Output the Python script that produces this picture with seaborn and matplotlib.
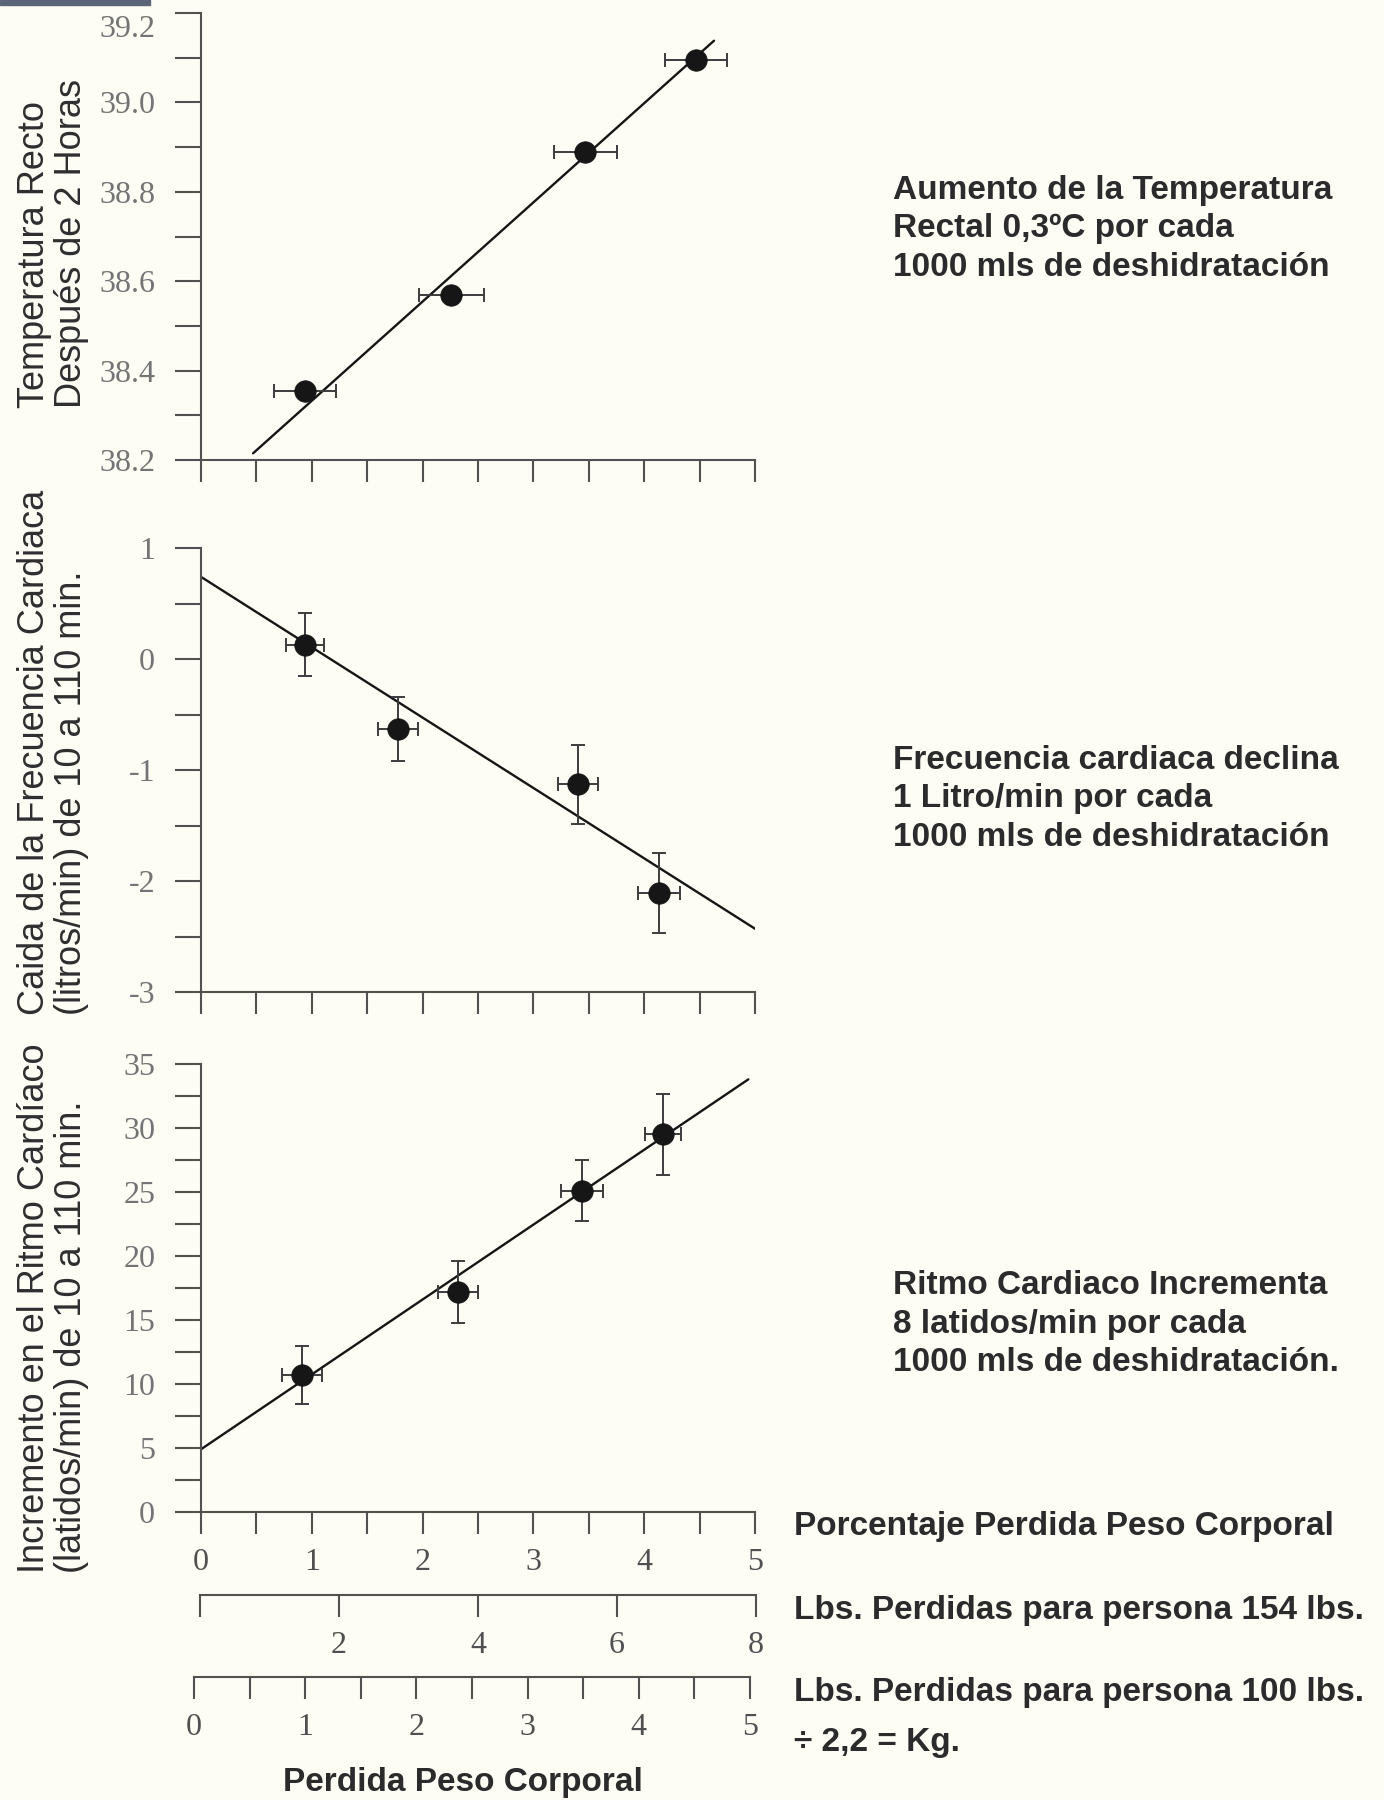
import matplotlib
matplotlib.use("Agg")
import matplotlib.pyplot as plt
from matplotlib.patches import Rectangle
from matplotlib.ticker import MultipleLocator, FixedLocator
import seaborn as sns
import pandas as pd

# datos (x = % perdida peso corporal)
temp_x = [0.94, 2.26, 3.47, 4.47]
temp_y = [38.355, 38.570, 38.890, 39.095]
temp_xerr = [0.28, 0.29, 0.28, 0.28]
temp_fit_x = [0.47, 4.63]
temp_fit_y = [38.215, 39.138]

fc_x = [0.94, 1.78, 3.40, 4.13]
fc_y = [0.13, -0.63, -1.13, -2.11]
fc_xerr = [0.17, 0.18, 0.18, 0.19]
fc_yerr = [0.28, 0.29, 0.355, 0.36]
fc_fit_x = [0.0, 5.0]
fc_fit_y = [0.74, -2.43]

rc_x = [0.91, 2.32, 3.44, 4.17]
rc_y = [10.7, 17.2, 25.1, 29.5]
rc_xerr = [0.18, 0.18, 0.19, 0.16]
rc_yerr = [2.3, 2.4, 2.4, 3.15]
rc_fit_x = [0.0, 4.94]
rc_fit_y = [4.9, 33.8]

pct_ticks = [0, 1, 2, 3, 4, 5]
lbs154_ticks = [0, 2, 4, 6, 8]
lbs154_labels = ["", "2", "4", "6", "8"]
lbs100_ticks = [0, 1, 2, 3, 4, 5]

paneles = [
    dict(x=temp_x, y=temp_y, xerr=temp_xerr, yerr=None, fx=temp_fit_x, fy=temp_fit_y,
         ylim=(38.2, 39.2), major=0.2, minor=0.1, fmt="{:.1f}",
         rect=[201, 13, 460],
         ylabel="Temperatura Recto\nDespués de 2 Horas", ylab_y=244,
         note="Aumento de la Temperatura\nRectal 0,3ºC por cada\n1000 mls de deshidratación", note_y=229),
    dict(x=fc_x, y=fc_y, xerr=fc_xerr, yerr=fc_yerr, fx=fc_fit_x, fy=fc_fit_y,
         ylim=(-3, 1), major=1, minor=0.5, fmt="{:.0f}",
         rect=[201, 548, 992],
         ylabel="Caida de la Frecuencia Cardiaca\n(litros/min) de 10 a 110 min.", ylab_y=752,
         note="Frecuencia cardiaca declina\n1 Litro/min por cada\n1000 mls de deshidratación", note_y=799),
    dict(x=rc_x, y=rc_y, xerr=rc_xerr, yerr=rc_yerr, fx=rc_fit_x, fy=rc_fit_y,
         ylim=(0, 35), major=5, minor=2.5, fmt="{:.0f}",
         rect=[201, 1064, 1512],
         ylabel="Incremento en el Ritmo Cardíaco\n(latidos/min) de 10 a 110 min.", ylab_y=1308,
         note="Ritmo Cardiaco Incrementa\n8 latidos/min por cada\n1000 mls de deshidratación.", note_y=1324),
]

sns.set_theme(style="ticks")
plt.rcParams['font.family'] = ['Liberation Sans', 'DejaVu Sans']
plt.rcParams['axes.unicode_minus'] = False

W, H = 1384, 1800
fig = plt.figure(figsize=(W / 100, H / 100), dpi=100)
fig.patch.set_facecolor("#fdfdf6")
fig.patches.append(Rectangle((0, 1 - 5 / H), 150 / W, 5 / H, transform=fig.transFigure,
                             color="#5b6577", zorder=0))

linea = "#555050"
serif = "Liberation Serif"
gris_y = "#747474"

for i, p in enumerate(paneles):
    left, top, bottom = p["rect"]
    ax = fig.add_axes([left / W, 1 - bottom / H, 554 / W, (bottom - top) / H])
    ax.set_facecolor("none")

    df = pd.DataFrame({"x": p["x"], "y": p["y"]})
    sns.lineplot(x=p["fx"], y=p["fy"], color="#151515", lw=1.7, ax=ax, zorder=2)
    ax.errorbar(df["x"], df["y"], xerr=p["xerr"], yerr=p["yerr"], fmt="none",
                ecolor="#3c3c3c", elinewidth=1.4, capsize=5, capthick=1.4, zorder=3)
    sns.scatterplot(data=df, x="x", y="y", s=240, color="#161616", edgecolor="#161616",
                    linewidth=0.5, ax=ax, zorder=4, legend=False, clip_on=False)

    ax.set_xlim(0, 5)
    ax.set_ylim(*p["ylim"])
    ax.set_xlabel("")
    ax.set_ylabel("")
    sns.despine(ax=ax)
    for s in ("left", "bottom"):
        ax.spines[s].set_color(linea)
        ax.spines[s].set_linewidth(1.5)

    ax.xaxis.set_major_locator(MultipleLocator(1))
    ax.xaxis.set_minor_locator(MultipleLocator(0.5))
    ax.yaxis.set_major_locator(MultipleLocator(p["major"]))
    ax.yaxis.set_minor_locator(MultipleLocator(p["minor"]))
    tope = p["ylim"][1] if i == 0 else None

    def formato(v, pos, f=p["fmt"], tope=tope):
        # la etiqueta superior del primer panel va algo mas abajo (se pone aparte)
        if tope is not None and abs(v - tope) < 1e-6:
            return ""
        return f.format(v)

    ax.yaxis.set_major_formatter(formato)
    ax.tick_params(axis="both", which="both", direction="out", color=linea, width=1.5,
                   labelcolor=gris_y, labelsize=23, labelfontfamily=serif)
    ax.tick_params(axis="y", which="both", length=19, pad=14)
    ax.tick_params(axis="x", which="both", length=16, pad=10)
    if i < 2:
        ax.tick_params(axis="x", labelbottom=False)
    else:
        ax.set_xticks(pct_ticks)
        ax.tick_params(axis="x", labelcolor="#505050")
    if tope is not None:
        ax.annotate(p["fmt"].format(tope), xy=(0, tope), xycoords=("axes fraction", "data"),
                    xytext=(-33, -12), textcoords="offset points", ha="right", va="center",
                    fontsize=23, family=serif, color=gris_y)

    fig.text(53 / W, 1 - p["ylab_y"] / H, p["ylabel"], rotation=90, ha="center", va="center",
             multialignment="left", fontsize=26, color="#2e2e2e", linespacing=1.05)
    fig.text(893 / W, 1 - p["note_y"] / H, p["note"], ha="left", va="center",
             fontsize=24, fontweight="bold", color="#2b2b2b", linespacing=1.33)

# escalas secundarias bajo el grafico
def escala(y_px, x0_px, lim, ticks, labels, minor=None):
    a = fig.add_axes([x0_px / W, 1 - y_px / H, 556 / W, 0.0001])
    a.set_facecolor("none")
    a.set_xlim(*lim)
    a.set_yticks([])
    for s in ("left", "right", "top"):
        a.spines[s].set_visible(False)
    a.spines["bottom"].set_color(linea)
    a.spines["bottom"].set_linewidth(1.5)
    a.xaxis.set_major_locator(FixedLocator(ticks))
    a.set_xticklabels(labels)
    if minor is not None:
        a.xaxis.set_minor_locator(MultipleLocator(minor))
    a.tick_params(axis="x", which="both", direction="out", length=16, width=1.5, color=linea,
                  pad=10, labelsize=23, labelcolor="#505050", labelfontfamily=serif)
    return a

escala(1595, 200, (0, 8), lbs154_ticks, lbs154_labels)
escala(1677, 194, (0, 5), lbs100_ticks, [str(t) for t in lbs100_ticks], minor=0.5)

etiquetas = [
    ("Porcentaje Perdida Peso Corporal", 1527),
    ("Lbs. Perdidas para persona 154 lbs.", 1610),
    ("Lbs. Perdidas para persona 100 lbs.", 1692),
    ("÷ 2,2 = Kg.", 1743),
]
for txt, y in etiquetas:
    fig.text(794 / W, 1 - y / H, txt, ha="left", va="center", fontsize=24,
             fontweight="bold", color="#2b2b2b")

fig.text(463 / W, 1 - 1783 / H, "Perdida Peso Corporal", ha="center", va="center",
         fontsize=24, fontweight="bold", color="#2b2b2b")

fig.savefig("out.png", dpi=100, facecolor=fig.get_facecolor())
